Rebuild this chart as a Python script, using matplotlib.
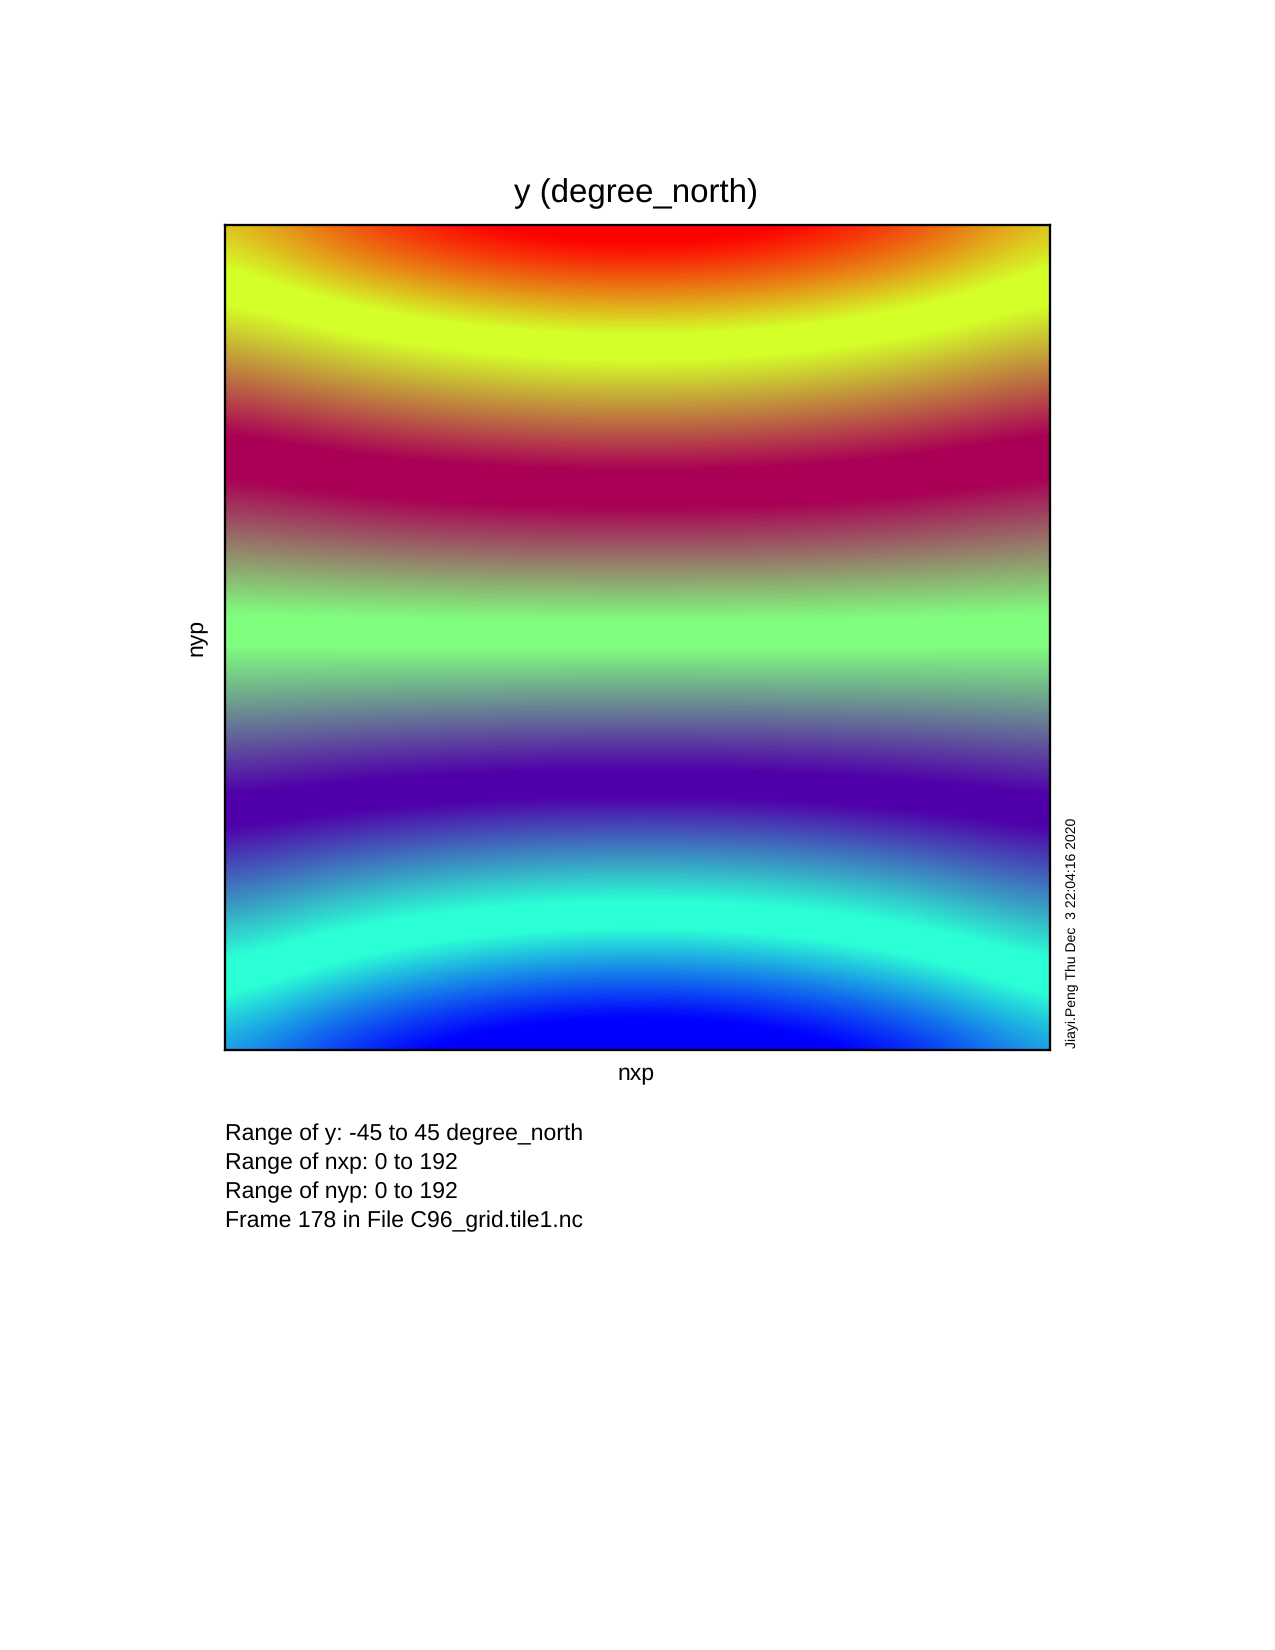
import numpy as np
import matplotlib
matplotlib.use("Agg")
import matplotlib.pyplot as plt
from matplotlib.colors import LinearSegmentedColormap

plt.rcParams['font.family'] = ['Liberation Sans', 'DejaVu Sans']
plt.rcParams['text.hinting'] = 'no_hinting'
plt.rcParams['text.hinting_factor'] = 1

# Latitude read at grid nodes (columns nxp 0..192 every 24, rows nyp 0..192 every 16)
nxp_nodes = [0, 24, 48, 72, 96, 120, 144, 168, 192]
nyp_nodes = [0, 16, 32, 48, 64, 80, 96, 112, 128, 144, 160, 176, 192]
y_values = [
    [-35.3, -39.5, -42.6, -44.4, -45.0, -44.4, -42.6, -39.5, -35.3],
    [-30.1, -33.3, -35.6, -37.0, -37.5, -37.0, -35.6, -33.3, -30.1],
    [-24.3, -26.8, -28.6, -29.6, -30.0, -29.6, -28.6, -26.8, -24.3],
    [-18.6, -20.3, -21.5, -22.3, -22.5, -22.3, -21.5, -20.3, -18.6],
    [-12.6, -13.7, -14.4, -14.9, -15.0, -14.9, -14.4, -13.7, -12.6],
    [-6.4, -6.9, -7.2, -7.4, -7.5, -7.4, -7.2, -6.9, -6.4],
    [-0.3, -0.2, -0.1, 0.0, 0.0, 0.0, -0.1, -0.2, -0.3],
    [5.9, 6.6, 7.1, 7.4, 7.5, 7.4, 7.1, 6.6, 5.9],
    [12.0, 13.3, 14.3, 14.8, 15.0, 14.8, 14.3, 13.3, 12.0],
    [18.2, 20.1, 21.4, 22.2, 22.5, 22.2, 21.4, 20.1, 18.2],
    [24.6, 26.9, 28.6, 29.7, 30.0, 29.7, 28.6, 26.9, 24.6],
    [30.9, 33.8, 35.9, 37.1, 37.5, 37.1, 35.9, 33.8, 30.9],
    [35.3, 39.5, 42.6, 44.4, 45.0, 44.4, 42.6, 39.5, 35.3],
]

# Colour scale: each colour holds over a short plateau
scale_values = [-45.0, -41.2, -31.6, -28.7, -17.3, -14.5, -1.0, 1.8,
                14.3, 18.2, 30.3, 33.1, 42.6, 45.0]
scale_colors = ['#0000FF', '#0000FF', '#2BFFD5', '#2BFFD5', '#5000AA', '#5000AA',
                '#80FF7F', '#80FF7F', '#AA0055', '#AA0055', '#D4FF28', '#D4FF28',
                '#FF0000', '#FF0000']

title = 'y (degree_north)'
x_label = 'nxp'
y_label = 'nyp'
info_lines = ['Range of y: -45 to 45 degree_north',
              'Range of nxp: 0 to 192',
              'Range of nyp: 0 to 192',
              'Frame 178 in File C96_grid.tile1.nc']
stamp = 'Jiayi.Peng Thu Dec  3 22:04:16 2020'

W, H = 1275, 1650
fig = plt.figure(figsize=(W / 150, H / 150), dpi=150, facecolor='white')
L, T, R, B = 225, 225, 1050, 1050
ax = fig.add_axes([L / W, 1 - B / H, (R - L) / W, (B - T) / H])

lo, hi = scale_values[0], scale_values[-1]
cmap = LinearSegmentedColormap.from_list(
    'field', [((v - lo) / (hi - lo), c) for v, c in zip(scale_values, scale_colors)], N=512)

dx = nxp_nodes[1] - nxp_nodes[0]
dy = nyp_nodes[1] - nyp_nodes[0]
ax.imshow(np.array(y_values), origin='lower', cmap=cmap, vmin=lo, vmax=hi,
          extent=(nxp_nodes[0] - dx / 2, nxp_nodes[-1] + dx / 2,
                  nyp_nodes[0] - dy / 2, nyp_nodes[-1] + dy / 2),
          aspect='auto', interpolation='bicubic', interpolation_stage='data')
ax.set_xlim(nxp_nodes[0], nxp_nodes[-1])
ax.set_ylim(nyp_nodes[0], nyp_nodes[-1])
ax.set_xticks([])
ax.set_yticks([])
for s in ax.spines.values():
    s.set_linewidth(1.1)
    s.set_color('black')


def put(px, py, s, **kw):
    fig.text(px / W, 1 - py / H, s, color='black', **kw)


put(636, 202, title, fontsize=16, ha='center', va='baseline')
put(636, 1080, x_label, fontsize=11, ha='center', va='baseline')
put(207, 637, y_label, fontsize=11, rotation=90, ha='right', va='center')
for yy, line in zip([1140, 1169, 1198, 1227], info_lines):
    put(225, yy, line, fontsize=10.95, ha='left', va='baseline')
put(1076, 1048, stamp, fontsize=6.9, rotation=90, ha='left', va='baseline',
    rotation_mode='anchor')

fig.savefig('out.png', dpi=150, facecolor='white')
